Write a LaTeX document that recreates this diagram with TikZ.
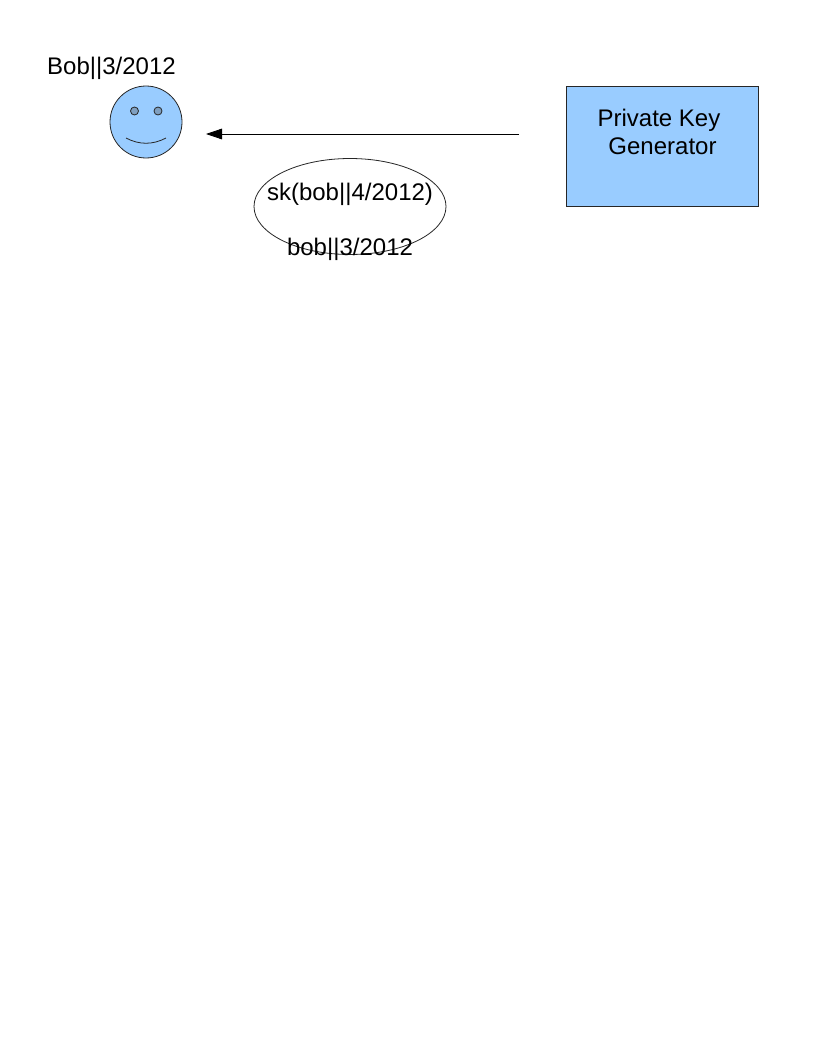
\documentclass[tikz,border=0pt]{standalone}
\usepackage{fontspec}
\setmainfont{Liberation Sans}
\usetikzlibrary{arrows.meta,shapes.geometric}
\definecolor{softblue}{HTML}{99CCFF}
\definecolor{eyeblue}{HTML}{7F9FC0}
\tikzset{
  outline/.style={draw=black!85,line width=0.6pt},
  label/.style={anchor=base,inner sep=0pt,font=\fontsize{18}{21}\selectfont,text=black},
  link/.style={draw=black,line width=0.6pt,-{Triangle[length=12pt,width=8pt]}}
}
\begin{document}
\begin{tikzpicture}[x=0.75pt,y=-0.75pt]
\useasboundingbox (0,0) rectangle (816,1056);
\fill[white] (0,0) rectangle (816,1056);
\node[label] (boblabel) at (111.5,74.5) {Bob||3/2012};
\node[circle,outline,fill=softblue,minimum size=54pt,inner sep=0pt] (face) at (146,122) {};
\node[circle,outline,fill=eyeblue,minimum size=6pt,inner sep=0pt] (eyeL) at (134.5,111) {};
\node[circle,outline,fill=eyeblue,minimum size=6pt,inner sep=0pt] (eyeR) at (158,111) {};
\coordinate (smileL) at (126,138);
\coordinate (smileR) at (166,138);
\draw[outline] (smileL) .. controls (139,145) and (153,145) .. (smileR);
\node[rectangle,outline,fill=softblue,minimum width=144pt,minimum height=90pt,inner sep=0pt] (pkg) at (662,146) {};
\node[label] (pkgtop) at (659,126) {Private Key};
\node[label] (pkgbot) at (662.5,154) {Generator};
\coordinate (arrowstart) at (519,134);
\coordinate (arrowend) at (206,134);
\draw[link] (arrowstart) -- (arrowend);
\node[ellipse,outline,minimum width=144pt,minimum height=72pt,inner sep=0pt] (msg) at (350,206.5) {};
\node[label] (sk) at (350,200) {sk(bob||4/2012)};
\node[label] (old) at (350,255.5) {bob||3/2012};
\end{tikzpicture}
\end{document}
